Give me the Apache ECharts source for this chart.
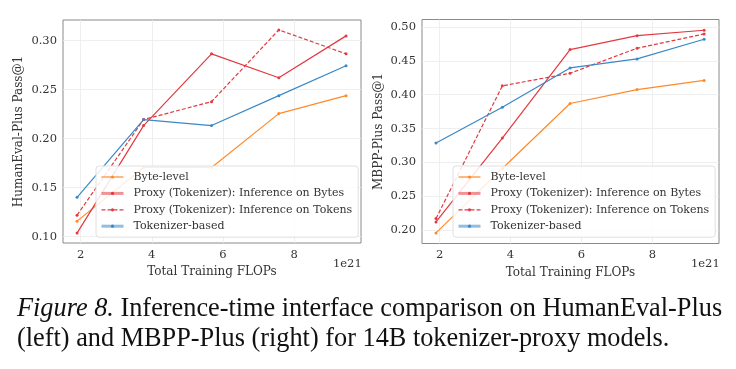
<!DOCTYPE html>
<html><head><meta charset="utf-8">
<script src="https://cdn.jsdelivr.net/npm/echarts@6/dist/echarts.min.js"></script>
<style>html,body{margin:0;padding:0;background:#fff}#c{width:736px;height:369px}</style>
</head><body><div id="c"></div>
<script>
const flops = [1.9, 3.77, 5.68, 7.57, 9.46];
const xTicks = [2, 4, 6, 8];
const heTicks = [0.10, 0.15, 0.20, 0.25, 0.30];
const mbTicks = [0.20, 0.25, 0.30, 0.35, 0.40, 0.45, 0.50];
const seriesNames = ['Byte-level', 'Proxy (Tokenizer): Inference on Bytes', 'Proxy (Tokenizer): Inference on Tokens', 'Tokenizer-based'];
const heByte = [0.1159, 0.1707, 0.1707, 0.2256, 0.2439];
const heProxyBytes = [0.1037, 0.2134, 0.2866, 0.2622, 0.3049];
const heProxyTokens = [0.1220, 0.2195, 0.2378, 0.3110, 0.2866];
const heTokenizer = [0.1402, 0.2195, 0.2134, 0.2439, 0.2744];
const mbByte = [0.196, 0.291, 0.387, 0.4075, 0.421];
const mbProxyBytes = [0.2123, 0.3360, 0.4665, 0.4870, 0.4950];
const mbProxyTokens = [0.2172, 0.4130, 0.4316, 0.4685, 0.4896];
const mbTokenizer = [0.3288, 0.3815, 0.4394, 0.4527, 0.4817];

const colors = ['#ff8a2a', '#e23a40', '#e23a40', '#3a88c6'];
const legendLine = [
  { width: 1.2, color: '#ff8a2a' },
  { width: 3, color: 'rgba(226,58,64,0.55)' },
  { width: 1.2, color: '#e23a40' },
  { width: 3, color: 'rgba(58,136,198,0.55)' }
];
const dashed = [false, false, true, false];
const FONT = 'DejaVu Serif';
const TXT = '#333';

function mk(name, i, data, idx) {
  return {
    name: name, type: 'line', xAxisIndex: idx, yAxisIndex: idx,
    data: flops.map((x, k) => [x, data[k]]),
    symbol: 'circle', symbolSize: 3, showSymbol: true,
    lineStyle: { color: colors[i], width: 1.2, type: dashed[i] ? [4, 2] : 'solid' },
    itemStyle: { color: colors[i] },
    emphasis: { disabled: true }, animation: false, z: 3
  };
}
const heData = [heByte, heProxyBytes, heProxyTokens, heTokenizer];
const mbData = [mbByte, mbProxyBytes, mbProxyTokens, mbTokenizer];
const series = [];
seriesNames.forEach((n, i) => series.push(mk(n, i, heData[i], 0)));
seriesNames.forEach((n, i) => series.push(mk(n, i, mbData[i], 1)));

function xAx(idx) {
  return {
    type: 'value', gridIndex: idx, min: 1.505, max: 9.88,
    name: 'Total Training FLOPs', nameLocation: 'middle', nameGap: 22,
    nameTextStyle: { fontFamily: FONT, fontSize: 12, color: TXT },
    axisLine: { show: false }, axisTick: { show: false, customValues: xTicks },
    axisLabel: { customValues: xTicks, fontFamily: FONT, fontSize: 11.5, color: TXT, margin: 6 },
    splitLine: { show: true, lineStyle: { color: '#ebebeb', width: 0.8 } }
  };
}
function yAx(idx, min, max, ticks, name, gap) {
  return {
    type: 'value', gridIndex: idx, min: min, max: max,
    name: name, nameLocation: 'middle', nameGap: gap,
    nameTextStyle: { fontFamily: FONT, fontSize: 12, color: TXT },
    axisLine: { show: false }, axisTick: { show: false, customValues: ticks },
    axisLabel: { customValues: ticks, formatter: v => v.toFixed(2), fontFamily: FONT, fontSize: 11.5, color: TXT, margin: 6 },
    splitLine: { show: true, lineStyle: { color: '#ebebeb', width: 0.8 } }
  };
}
function lg(left) {
  return {
    data: seriesNames.map((n, i) => ({ name: n, lineStyle: legendLine[i] })),
    orient: 'vertical', left: left, top: 166,
    itemWidth: 22, itemHeight: 4, itemGap: 2.4,
    padding: [4, 6, 4, 4],
    backgroundColor: 'rgba(255,255,255,0.85)', borderColor: '#e0e0e0', borderWidth: 1, borderRadius: 3,
    textStyle: { fontFamily: FONT, fontSize: 11, color: TXT, lineHeight: 14, padding: [0, 0, 0, 5] },
    selectedMode: false
  };
}
const chart = echarts.init(document.getElementById('c'), null, { renderer: 'canvas' });
chart.setOption({
  animation: false,
  backgroundColor: '#fff',
  grid: [
    { left: 63, top: 20, width: 298, height: 223, show: true, borderColor: '#8a8a8a', borderWidth: 1, backgroundColor: 'transparent' },
    { left: 422, top: 19.5, width: 297, height: 224, show: true, borderColor: '#8a8a8a', borderWidth: 1, backgroundColor: 'transparent' }
  ],
  xAxis: [xAx(0), xAx(1)],
  yAxis: [
    yAx(0, 0.0936, 0.3211, heTicks, 'HumanEval-Plus Pass@1', 38),
    yAx(1, 0.1804, 0.5109, mbTicks, 'MBPP-Plus Pass@1', 37)
  ],
  legend: [lg(96), lg(453)],
  series: series,
  graphic: [
    { type: 'text', left: 333, top: 258, style: { text: '1e21', font: '11.5px "DejaVu Serif"', fill: TXT } },
    { type: 'text', left: 691, top: 258, style: { text: '1e21', font: '11.5px "DejaVu Serif"', fill: TXT } },
    { type: 'text', left: 17, top: 294.5, style: {
      text: '{i|Figure 8.} Inference-time interface comparison on HumanEval-Plus\n(left) and MBPP-Plus (right) for 14B tokenizer-proxy models.',
      fontFamily: 'Liberation Serif', fontSize: 26.3, lineHeight: 30, fill: '#111',
      rich: { i: { fontStyle: 'italic', fontFamily: 'Liberation Serif', fontSize: 26.3, lineHeight: 30, fill: '#111' } }
    } }
  ]
});
</script></body></html>
